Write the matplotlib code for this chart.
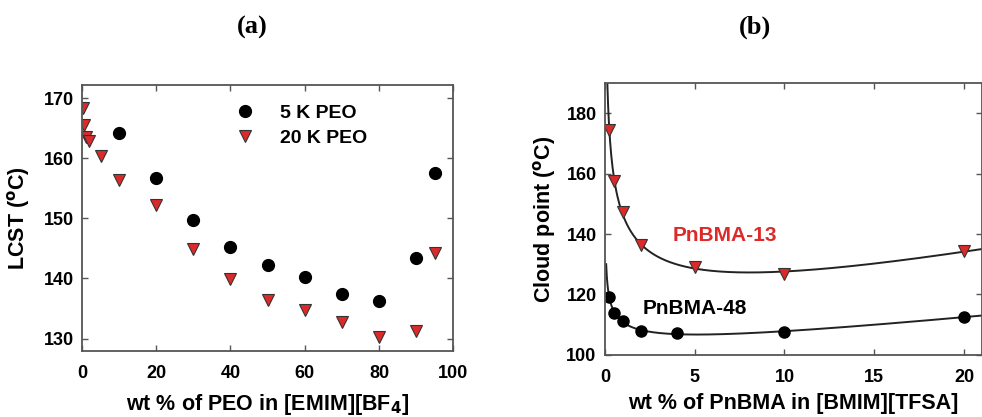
import numpy as np
import matplotlib
matplotlib.use('Agg')
import matplotlib.pyplot as plt

plt.rcParams['font.family'] = ['Liberation Sans', 'DejaVu Sans']
plt.rcParams['font.weight'] = 'bold'

# (a) LCST of PEO in [EMIM][BF4]
peo5k_x = [10, 20, 30, 40, 50, 60, 70, 80, 90, 95]
peo5k_y = [164.3, 156.7, 149.7, 145.2, 142.2, 140.2, 137.4, 136.3, 143.4, 157.6]
peo20k_x = [0.2, 0.5, 1, 2, 5, 10, 20, 30, 40, 50, 60, 70, 80, 90, 95]
peo20k_y = [168.4, 165.5, 163.6, 162.9, 160.4, 156.4, 152.3, 144.9, 139.9,
            136.4, 134.8, 132.8, 130.3, 131.3, 144.3]

# (b) cloud points of PnBMA in [BMIM][TFSA]
bma13_x = [0.25, 0.5, 1, 2, 5, 10, 20]
bma13_y = [174.5, 157.4, 147.4, 136.4, 129.2, 126.8, 134.4]
bma48_x = [0.25, 0.5, 1, 2, 4, 10, 20]
bma48_y = [119.1, 113.8, 111.3, 108.0, 107.2, 107.5, 112.6]

red = '#dc2a2a'
spine_col = '#555555'


def fit_curve(x, y, xs):
    # y = a + b*x^-p + c*x, p picked by least squares
    x = np.asarray(x, float)
    y = np.asarray(y, float)
    best = None
    for p in np.linspace(0.1, 1.5, 141):
        A = np.column_stack([np.ones_like(x), x ** -p, x])
        coef, res, _, _ = np.linalg.lstsq(A, y, rcond=None)
        err = np.sum((A @ coef - y) ** 2)
        if best is None or err < best[0]:
            best = (err, p, coef)
    _, p, coef = best
    return coef[0] + coef[1] * xs ** -p + coef[2] * xs


def style_axes(ax, xpad):
    for s in ax.spines.values():
        s.set_color(spine_col)
        s.set_linewidth(1.3)
    ax.tick_params(direction='in', top=True, right=True, length=4,
                   width=1.0, color=spine_col, labelsize=13)
    ax.tick_params(axis='x', pad=xpad)
    ax.tick_params(axis='y', pad=6)
    for lab in ax.get_xticklabels() + ax.get_yticklabels():
        lab.set_fontweight('bold')


fig = plt.figure(figsize=(9.82, 4.17), dpi=100)

ax1 = fig.add_axes([0.0835, 0.158, 0.378, 0.638])
ax1.plot(peo5k_x, peo5k_y, 'o', color='black', ms=8.5, label='5 K PEO')
ax1.plot(peo20k_x, peo20k_y, 'v', color=red, mec='#333333', mew=0.8,
         ms=8.5, label='20 K PEO')
ax1.set_xlim(0, 100)
ax1.set_ylim(127.9, 172.2)
ax1.set_xticks([0, 20, 40, 60, 80, 100])
ax1.set_yticks([130, 140, 150, 160, 170])
ax1.set_xlabel('wt % of PEO in [EMIM][BF$_\\mathbf{4}$]', fontsize=15.5,
               fontweight='bold', labelpad=7)
ax1.set_ylabel('LCST ($^\\mathbf{o}$C)', fontsize=15.5, fontweight='bold',
               labelpad=8)
ax1.legend(loc='upper left', bbox_to_anchor=(0.34, 0.995), frameon=False,
           handletextpad=0.8, labelspacing=0.4,
           prop={'weight': 'bold', 'size': 14})
style_axes(ax1, 10)

ax2 = fig.add_axes([0.616, 0.149, 0.384, 0.652])
xs = np.linspace(0.04, 21, 600)
xs48 = np.linspace(0.07, 21, 600)
ax2.plot(xs, fit_curve(bma13_x, bma13_y, xs), color='#222222', lw=1.4)
ax2.plot(xs48, fit_curve(bma48_x, bma48_y, xs48), color='#222222', lw=1.4)
ax2.plot(bma13_x, bma13_y, 'v', color=red, mec='#333333', mew=0.8, ms=8)
ax2.plot(bma48_x, bma48_y, 'o', color='black', ms=8)
ax2.text(6.7, 139.5, 'PnBMA-13', color=red, fontsize=15, fontweight='bold',
         ha='center', va='center')
ax2.text(5.0, 115.4, 'PnBMA-48', color='black', fontsize=15,
         fontweight='bold', ha='center', va='center')
ax2.set_xlim(0, 21)
ax2.set_ylim(100, 190)
ax2.set_xticks([0, 5, 10, 15, 20])
ax2.set_yticks([100, 120, 140, 160, 180])
ax2.set_xlabel('wt % of PnBMA in [BMIM][TFSA]', fontsize=15.5,
               fontweight='bold', labelpad=5)
ax2.set_ylabel('Cloud point ($^\\mathbf{o}$C)', fontsize=15.5,
               fontweight='bold', labelpad=6)
style_axes(ax2, 10)

fig.text(252 / 982, 1 - 27 / 417, '(a)', fontsize=19, fontweight='bold',
         family='Liberation Serif', ha='center', va='center')
fig.text(755 / 982, 1 - 27 / 417, '(b)', fontsize=19, fontweight='bold',
         family='Liberation Serif', ha='center', va='center')

fig.savefig('out.png', dpi=100)
